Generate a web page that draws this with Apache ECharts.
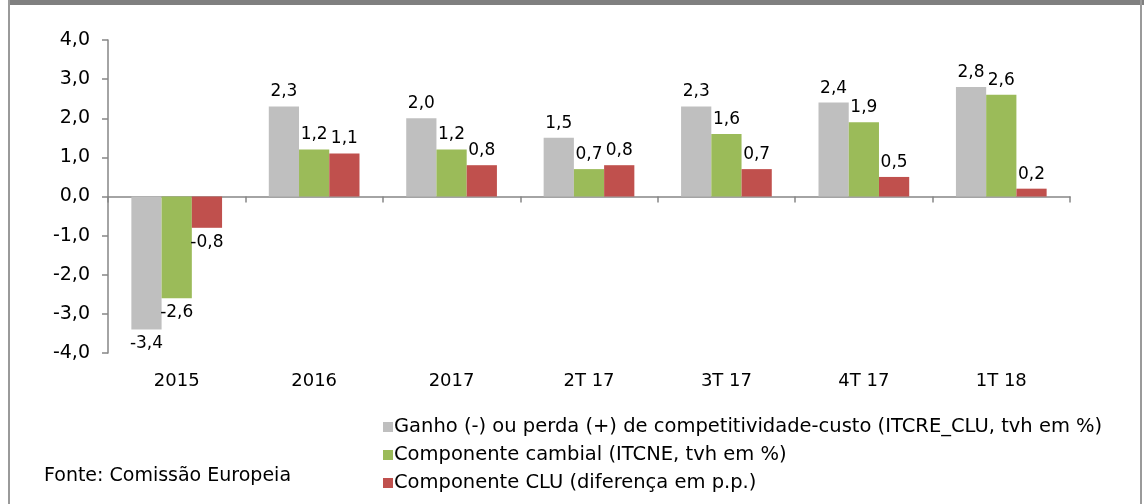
<!DOCTYPE html>
<html>
<head>
<meta charset="utf-8">
<script src="https://cdn.jsdelivr.net/npm/echarts@6/dist/echarts.min.js"></script>
<style>
  html, body { margin: 0; padding: 0; background: #fff; }
  #chart { width: 1144px; height: 504px; }
</style>
</head>
<body>
<div id="chart"></div>
<script>
  // categorias e séries
  var categories = ['2015', '2016', '2017', '2T 17', '3T 17', '4T 17', '1T 18']
  var ganho = [-3.4, 2.3, 2.0, 1.5, 2.3, 2.4, 2.8]
  var cambial = [-2.6, 1.2, 1.2, 0.7, 1.6, 1.9, 2.6]
  var clu = [-0.8, 1.1, 0.8, 0.8, 0.7, 0.5, 0.2]
  var seriesNames = [
    'Ganho (-) ou perda (+) de competitividade-custo (ITCRE_CLU, tvh em %)',
    'Componente cambial (ITCNE, tvh em %)',
    'Componente CLU (diferença em p.p.)'
  ]
  var colors = ['#BFBFBF', '#9BBB59', '#C0504D']

  var FONT = 'DejaVu Sans'

  function fmt(v) {
    return v.toFixed(1).replace('.', ',')
  }

  // rótulo em cima para positivos, em baixo para negativos
  function toData(arr) {
    return arr.map(function (v) {
      return {value: v, label: {position: v < 0 ? 'bottom' : 'top'}}
    })
  }

  function makeSeries(name, arr, color) {
    return {
      name: name,
      type: 'bar',
      xAxisIndex: 0,
      data: toData(arr),
      barGap: '0%',
      barCategoryGap: '34%',
      itemStyle: {color: color},
      label: {
        show: true,
        distance: 6,
        color: '#000',
        fontFamily: FONT,
        fontSize: 17,
        formatter: function (p) { return fmt(p.value) }
      },
      animation: false
    }
  }

  var chart = echarts.init(document.getElementById('chart'))
  chart.setOption({
    animation: false,
    textStyle: {fontFamily: FONT},
    grid: {left: 108, right: 74, top: 40, bottom: 151},
    legend: {
      orient: 'vertical',
      left: 378,
      top: 412,
      itemWidth: 10,
      itemHeight: 10,
      itemGap: 8,
      icon: 'rect',
      textStyle: {fontFamily: FONT, fontSize: 19.5, color: '#000', padding: [0, 0, 0, -4]},
      data: seriesNames
    },
    xAxis: [{
      type: 'category',
      data: categories,
      axisLine: {onZero: true, lineStyle: {color: '#868686', width: 1.5}},
      axisTick: {show: true, length: 6, lineStyle: {color: '#868686', width: 1.5}},
      axisLabel: {show: false}
    }, {
      type: 'category',
      data: categories,
      position: 'bottom',
      axisLine: {show: false, onZero: false},
      axisTick: {show: false},
      axisLabel: {color: '#000', fontFamily: FONT, fontSize: 18, margin: 19}
    }],
    yAxis: {
      type: 'value',
      min: -4,
      max: 4,
      interval: 1,
      splitLine: {show: false},
      axisLine: {show: true, lineStyle: {color: '#868686', width: 1.5}},
      axisTick: {show: true, length: 6, lineStyle: {color: '#868686', width: 1.5}},
      axisLabel: {
        color: '#000', fontFamily: FONT, fontSize: 19, margin: 18,
        formatter: function (v) { return fmt(v) }
      }
    },
    series: [
      makeSeries(seriesNames[0], ganho, colors[0]),
      makeSeries(seriesNames[1], cambial, colors[1]),
      makeSeries(seriesNames[2], clu, colors[2])
    ],
    graphic: [
      {type: 'rect', left: 8, top: 0, shape: {width: 1136, height: 5}, style: {fill: '#808080'}, silent: true},
      {type: 'rect', left: 8, top: 0, shape: {width: 2, height: 504}, style: {fill: '#9a9a9a'}, silent: true},
      {type: 'rect', left: 1140, top: 0, shape: {width: 2, height: 504}, style: {fill: '#9a9a9a'}, silent: true},
      {
        type: 'text', left: 44, top: 467,
        style: {text: 'Fonte: Comissão Europeia', fontFamily: FONT, fontSize: 19, fill: '#000'}
      }
    ]
  })
</script>
</body>
</html>
